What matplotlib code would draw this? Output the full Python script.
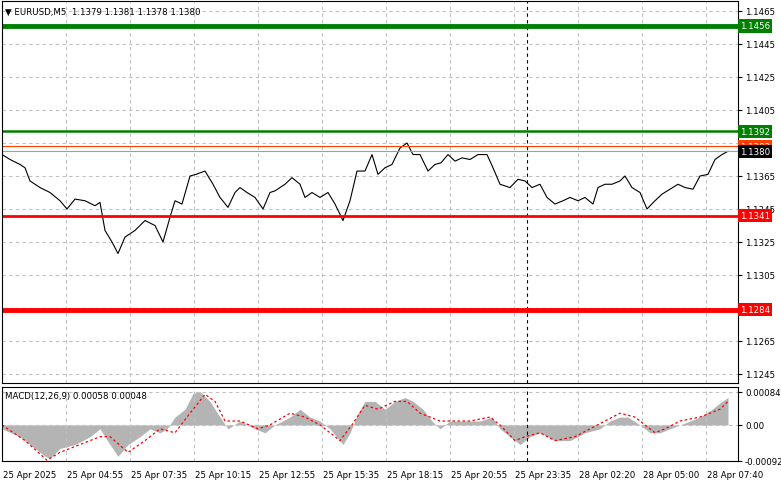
import matplotlib
matplotlib.use("Agg")
import matplotlib.pyplot as plt
import numpy as np

# price series: (bar index, close)
price_px = [2,10,20,25,30,40,50,60,67,75,85,95,100,105,112,118,125,135,145,155,163,170,175,182,190,196,205,213,220,228,235,240,247,255,263,270,275,285,292,300,305,312,320,328,335,343,350,357,365,372,378,385,392,400,407,413,420,428,435,441,448,455,462,470,478,487,493,500,510,518,525,532,540,547,555,563,570,578,585,593,598,605,612,620,625,632,640,647,655,662,670,678,685,693,700,708,715,722,728]
price = [1.1378,1.1375,1.1372,1.1370,1.1362,1.1358,1.1355,1.1350,1.1345,1.1351,1.1350,1.1347,1.1349,1.1332,1.1325,1.1318,1.1328,1.1332,1.1338,1.1335,1.1325,1.1340,1.1350,1.1348,1.1365,1.1366,1.1368,1.1360,1.1352,1.1346,1.1355,1.1358,1.1355,1.1352,1.1345,1.1355,1.1356,1.1360,1.1364,1.1360,1.1352,1.1355,1.1352,1.1355,1.1348,1.1338,1.1350,1.1368,1.1368,1.1378,1.1366,1.1370,1.1372,1.1382,1.1385,1.1378,1.1378,1.1368,1.1372,1.1373,1.1378,1.1374,1.1376,1.1375,1.1378,1.1378,1.1370,1.1360,1.1358,1.1363,1.1362,1.1358,1.1360,1.1352,1.1348,1.1350,1.1352,1.1350,1.1352,1.1348,1.1358,1.1360,1.1360,1.1362,1.1365,1.1358,1.1355,1.1345,1.1350,1.1354,1.1357,1.1360,1.1358,1.1357,1.1365,1.1366,1.1375,1.1378,1.1380]

hist_px = [2,20,35,45,50,60,75,90,100,110,118,128,140,150,160,167,175,185,193,200,210,220,228,240,255,265,275,290,300,310,320,330,343,350,358,365,375,385,395,405,413,423,432,440,450,465,480,492,500,510,520,530,540,555,570,585,600,610,620,628,640,650,660,670,680,690,700,712,722,728]
hist = [-0.0001,-0.0003,-0.0006,-0.0008,-0.00085,-0.0006,-0.0005,-0.0003,-0.0001,-0.0005,-0.0008,-0.0005,-0.0003,-0.0001,-0.0002,-0.0001,0.0002,0.0004,0.0008,0.00085,0.0006,0.0002,-0.0001,0.0001,-0.0001,-0.0002,0.0,0.0002,0.0004,0.0002,0.0001,-0.0001,-0.0005,-0.0002,0.0003,0.0006,0.0006,0.0004,0.0006,0.0007,0.0006,0.0004,0.0001,-0.0001,0.0001,0.0001,0.0001,0.0002,-0.0001,-0.0003,-0.0005,-0.0003,-0.0002,-0.0004,-0.0004,-0.0002,-0.0001,0.0001,0.0002,0.0002,0.0,-0.0002,-0.0002,-0.0001,0.0,0.0001,0.0002,0.0004,0.0006,0.0007]

sig_px = [2,25,47,60,80,100,110,128,145,160,175,190,205,215,225,240,258,270,290,305,320,330,340,352,365,378,395,407,420,440,470,490,500,515,525,540,555,575,590,605,620,635,655,665,680,700,720,728]
sig = [0.0,-0.0004,-0.0009,-0.0007,-0.0005,-0.0003,-0.0003,-0.0007,-0.0004,-0.0001,-0.0002,0.0003,0.00078,0.0006,0.0001,0.0001,-0.0001,0.0,0.0003,0.0002,0.0,-0.0002,-0.0004,0.0,0.0005,0.0004,0.0006,0.0006,0.0003,0.0001,0.0001,0.0002,0.0,-0.0004,-0.0003,-0.0002,-0.0004,-0.0003,-0.0001,0.0001,0.0003,0.0002,-0.0002,-0.0001,0.0001,0.0002,0.0004,0.0006]

time_labels = ["25 Apr 2025","25 Apr 04:55","25 Apr 07:35","25 Apr 10:15","25 Apr 12:55","25 Apr 15:35",
               "25 Apr 18:15","25 Apr 20:55","25 Apr 23:35","28 Apr 02:20","28 Apr 05:00","28 Apr 07:40"]
price_ticks = [1.1245,1.1265,1.1285,1.1305,1.1325,1.1345,1.1365,1.1385,1.1405,1.1425,1.1445,1.1465]
hidden_ticks = [1.1285, 1.1385]
levels = [(1.1456,'#008000',3.5),(1.1392,'#008000',1.8),(1.1341,'#ff0000',2.0),(1.1284,'#ff0000',3.5)]

W, H = 781, 489
fig = plt.figure(figsize=(W/100, H/100), dpi=100)
fig.patch.set_facecolor('white')
plt.rcParams['font.family'] = 'DejaVu Sans'
fs = 6.2

def bx(p): return (np.asarray(p) - 2) / 2.0

x0, x1 = 2/W, 738/W
ax = fig.add_axes([x0, 1-384/H, x1-x0, (384-2)/H])
ax2 = fig.add_axes([x0, 1-462/H, x1-x0, (462-388)/H])
ylo = 1.1465 - (384-12)*0.0020/33
yhi = 1.1465 + (12-2)*0.0020/33
ax.set_ylim(ylo, yhi)
xr = (0, 368)
for a in (ax, ax2):
    a.set_xlim(*xr)
    a.set_xticks(np.arange(0, 360, 32))
    a.grid(True, color='#c0c0c0', linestyle=(0, (3, 3)), linewidth=0.8)
    a.tick_params(axis='x', length=0, labelbottom=False)
    a.yaxis.tick_right()
    a.tick_params(axis='y', length=3, labelsize=fs, pad=2)
    for s in a.spines.values():
        s.set_color('black'); s.set_linewidth(0.8)
    a.axvline(bx(527), color='black', linestyle=(0, (3, 3)), linewidth=0.8)

ax.set_yticks(price_ticks)
ax.set_yticklabels(["" if t in hidden_ticks else f"{t:.4f}" for t in price_ticks])
ax.plot(bx(price_px), price, color='black', linewidth=0.8)
for v, c, lw in levels:
    ax.axhline(v, color=c, linewidth=lw)
    ax.text(1.003, v, f"{v:.4f}", transform=ax.get_yaxis_transform(), color='white', fontsize=fs,
            va='center', ha='left', bbox=dict(boxstyle='square,pad=0.25', fc=c, ec='none'))
ax.axhline(1.1383, color='#ff4000', linewidth=0.8)
ax.axhline(price[-1], color='#a0a0a0', linewidth=0.8)
ax.text(1.003, 1.1383, "1.1383", transform=ax.get_yaxis_transform(), color='white', fontsize=fs,
        va='center', ha='left', bbox=dict(boxstyle='square,pad=0.25', fc='#ff4000', ec='none'))
ax.text(1.003, price[-1], f"{price[-1]:.4f}", transform=ax.get_yaxis_transform(), color='white', fontsize=fs,
        va='center', ha='left', bbox=dict(boxstyle='square,pad=0.25', fc='black', ec='none'))
ax.text(0.004, 0.985, "\u25bc EURUSD,M5  1.1379 1.1381 1.1378 1.1380", transform=ax.transAxes,
        fontsize=fs, va='top', ha='left')

# MACD
m0 = 0.00084/33
ax2.set_ylim(-(462-426)*m0, (426-388)*m0)
ax2.fill_between(bx(hist_px), 0, hist, color='#b4b4b4', linewidth=0)
ax2.plot(bx(sig_px), sig, color='red', linestyle=(0, (2, 2)), linewidth=0.9)
ax2.set_yticks([-0.00092, 0, 0.00084])
ax2.set_yticklabels(["-0.00092", "0.00", "0.00084"])
ax2.text(0.004, 0.94, "MACD(12,26,9) 0.00058 0.00048", transform=ax2.transAxes, fontsize=fs, va='top')
for i, lab in enumerate(time_labels):
    fig.text((2 + i*32*2 + 1)/W, 1-476/H, lab, fontsize=fs, ha='left', va='center')
fig.savefig("out.png", dpi=100)
